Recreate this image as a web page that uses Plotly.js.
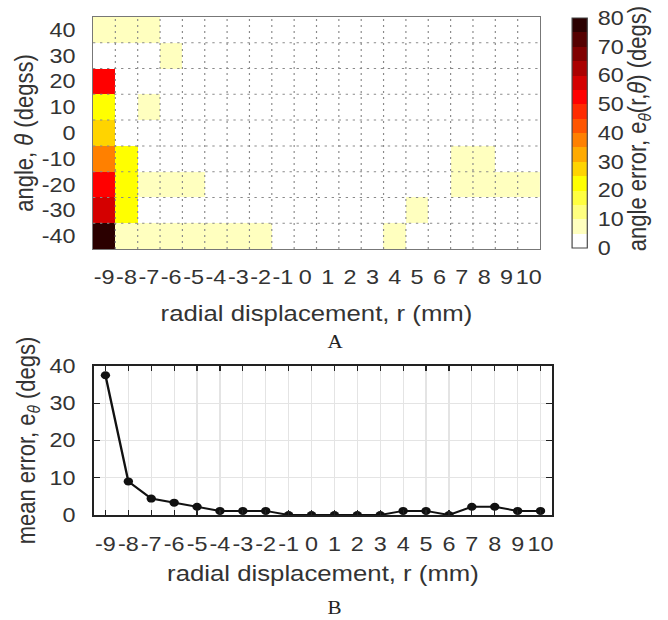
<!DOCTYPE html>
<html>
<head>
<meta charset="utf-8">
<script src="https://cdn.plot.ly/plotly-3.0.1.min.js"></script>
<style>
  html, body { margin: 0; padding: 0; background: #fff; overflow: hidden; }
  #wrap { width: 668px; height: 620px; overflow: hidden; }
  #chart { width: 571px; height: 620px; transform: scaleX(1.1699); transform-origin: 0 0; }
</style>
</head>
<body>
<div id="wrap"><div id="chart"></div></div>
<script>
// ---- data ----
const radial = [-9,-8,-7,-6,-5,-4,-3,-2,-1,0,1,2,3,4,5,6,7,8,9,10];
const angles = [-40,-30,-20,-10,0,10,20,30,40];
const meanTicks = [0,10,20,30,40];
// angle error e_theta(r, theta), one row per angle (from -40 to 40), one column per r
const errRowM40 = [78,8,8,8,8,8,8,8,0,0,0,0,0,8,0,0,0,0,0,0];
const errRowM30 = [57,22,0,0,0,0,0,0,0,0,0,0,0,0,8,0,0,0,0,0];
const errRowM20 = [52,22,8,8,8,0,0,0,0,0,0,0,0,0,0,0,8,8,8,8];
const errRowM10 = [38,22,0,0,0,0,0,0,0,0,0,0,0,0,0,0,8,8,0,0];
const errRow0   = [28,0,0,0,0,0,0,0,0,0,0,0,0,0,0,0,0,0,0,0];
const errRow10  = [22,0,8,0,0,0,0,0,0,0,0,0,0,0,0,0,0,0,0,0];
const errRow20  = [52,0,0,0,0,0,0,0,0,0,0,0,0,0,0,0,0,0,0,0];
const errRow30  = [0,0,0,8,0,0,0,0,0,0,0,0,0,0,0,0,0,0,0,0];
const errRow40  = [8,8,8,0,0,0,0,0,0,0,0,0,0,0,0,0,0,0,0,0];
// mean error e_theta per r
const meanError = [37.5,9,4.4,3.3,2.2,1.1,1.1,1.1,0,0,0,0,0,1.1,1.1,0,2.2,2.2,1.1,1.1];
const cbTicks = [0,10,20,30,40,50,60,70,80];
// inverted "hot" colormap, 16 levels
const hotLevels = ['#ffffff','#ffffbf','#ffff80','#ffff40','#ffff00','#ffd400','#ffaa00','#ff8000',
                   '#ff5500','#ff2b00','#ff0000','#d40000','#aa0000','#800000','#550000','#2b0000'];

const zMatrix = [errRowM40, errRowM30, errRowM20, errRowM10, errRow0, errRow10, errRow20, errRow30, errRow40];
const colorscale = [];
hotLevels.forEach((c, i) => {
  colorscale.push([i / hotLevels.length, c]);
  colorscale.push([(i + 1) / hotLevels.length, c]);
});
const lbl = v => String(v);   // plain hyphen-minus like the reference

const TXT = '#333';
const FAM = 'Liberation Sans, Arial, Helvetica, sans-serif';

const heat = {
  type: 'heatmap', x: radial, y: angles, z: zMatrix,
  zmin: 0, zmax: 80, colorscale: colorscale, xaxis: 'x', yaxis: 'y',
  hoverinfo: 'x+y+z',
  colorbar: {
    x: 0.8558, xanchor: 'left', xpad: 0, ypad: 0,
    y: 0.7855, yanchor: 'middle', len: 0.371, lenmode: 'fraction',
    thickness: 13, outlinewidth: 1, outlinecolor: '#444',
    tickvals: cbTicks, ticktext: cbTicks.map(lbl),
    ticks: 'outside', ticklen: 5, tickcolor: 'rgba(0,0,0,0)',
    tickfont: {size: 20, color: TXT, family: FAM}
  }
};

const line = {
  type: 'scatter', mode: 'lines+markers', x: radial, y: meanError,
  xaxis: 'x2', yaxis: 'y2',
  line: {color: '#111', width: 2},
  marker: {color: '#111', size: 8, symbol: 'circle'}
};

const shapes = [];
for (let i = 1; i < radial.length; i++) {
  const xb = (radial[i - 1] + radial[i]) / 2;
  shapes.push({type: 'line', xref: 'x', yref: 'y', x0: xb, x1: xb,
    y0: angles[0] - 5, y1: angles[angles.length - 1] + 5, layer: 'above',
    line: {color: '#8a8a8a', width: 1, dash: '2px,4px'}});
}
for (let j = 1; j < angles.length; j++) {
  const yb = (angles[j - 1] + angles[j]) / 2;
  shapes.push({type: 'line', xref: 'x', yref: 'y', y0: yb, y1: yb,
    x0: radial[0] - 0.5, x1: radial[radial.length - 1] + 0.5, layer: 'above',
    line: {color: '#8a8a8a', width: 1, dash: '2px,4px'}});
}

const tickFont = {size: 20, color: TXT, family: FAM};
const titleFont = {size: 22, color: TXT, family: FAM};

const layout = {
  width: 571, height: 620,
  margin: {l: 0, r: 0, t: 0, b: 0},
  paper_bgcolor: '#fff', plot_bgcolor: '#fff',
  showlegend: false,
  font: {family: FAM, color: TXT},
  xaxis: {
    domain: [0.1392, 0.8084], anchor: 'y', range: [-9.5, 10.5],
    tickvals: radial, ticktext: radial.map(lbl), ticks: '', tickangle: 0, showgrid: false, zeroline: false,
    showline: true, mirror: true, linecolor: '#777', linewidth: 1,
    tickfont: tickFont, ticklabelstandoff: 10, automargin: false,
    title: {text: 'radial displacement, r (mm)', font: titleFont, standoff: 18}
  },
  yaxis: {
    domain: [0.5984, 0.9726], anchor: 'x', range: [-45, 45],
    tickvals: angles, ticktext: angles.map(lbl), ticks: '', showgrid: false, zeroline: false,
    showline: true, mirror: true, linecolor: '#777', linewidth: 1,
    tickfont: tickFont, ticklabelstandoff: 10, automargin: false,
    title: {text: 'angle, <i>θ</i> (degss)', font: titleFont, standoff: 0}
  },
  xaxis2: {
    domain: [0.1407, 0.8263], anchor: 'y2', range: [-9.5, 10.5],
    tickvals: radial, ticktext: radial.map(lbl), ticks: 'inside', ticklen: 5, tickcolor: '#222', tickangle: 0,
    showgrid: true, gridcolor: '#e4e4e4', gridwidth: 1, zeroline: false,
    showline: true, mirror: 'ticks', linecolor: '#222', linewidth: 1.5,
    tickfont: tickFont, ticklabelstandoff: 10, automargin: false,
    title: {text: 'radial displacement, r (mm)', font: titleFont, standoff: 12}
  },
  yaxis2: {
    domain: [0.1694, 0.4097], anchor: 'x2', range: [0, 40],
    tickvals: meanTicks, ticktext: meanTicks.map(lbl),
    ticks: 'inside', ticklen: 5, tickcolor: '#222',
    showgrid: true, gridcolor: '#e4e4e4', gridwidth: 1, zeroline: false,
    showline: true, mirror: 'ticks', linecolor: '#222', linewidth: 1.5,
    tickfont: tickFont, ticklabelstandoff: 10, automargin: false,
    title: {text: 'mean error, e<sub><i>θ</i></sub> (degs)', font: titleFont, standoff: 6}
  },
  shapes: shapes,
  annotations: [
    {text: 'angle error, e<sub><i>θ</i></sub>(r,<i>θ</i>) (degs)', xref: 'paper', yref: 'paper',
     x: 0.9566, y: 0.792, xanchor: 'center', yanchor: 'middle', textangle: -90,
     showarrow: false, font: titleFont},
    {text: 'A', xref: 'paper', yref: 'paper', x: 0.5015, y: 0.448,
     xanchor: 'center', yanchor: 'middle', showarrow: false,
     font: {size: 18, color: '#222', family: 'Liberation Serif, Times New Roman, serif'}},
    {text: 'B', xref: 'paper', yref: 'paper', x: 0.5015, y: 0.0194,
     xanchor: 'center', yanchor: 'middle', showarrow: false,
     font: {size: 18, color: '#222', family: 'Liberation Serif, Times New Roman, serif'}}
  ]
};

Plotly.newPlot('chart', [heat, line], layout, {displayModeBar: false, staticPlot: false, responsive: false});
</script>
</body>
</html>
